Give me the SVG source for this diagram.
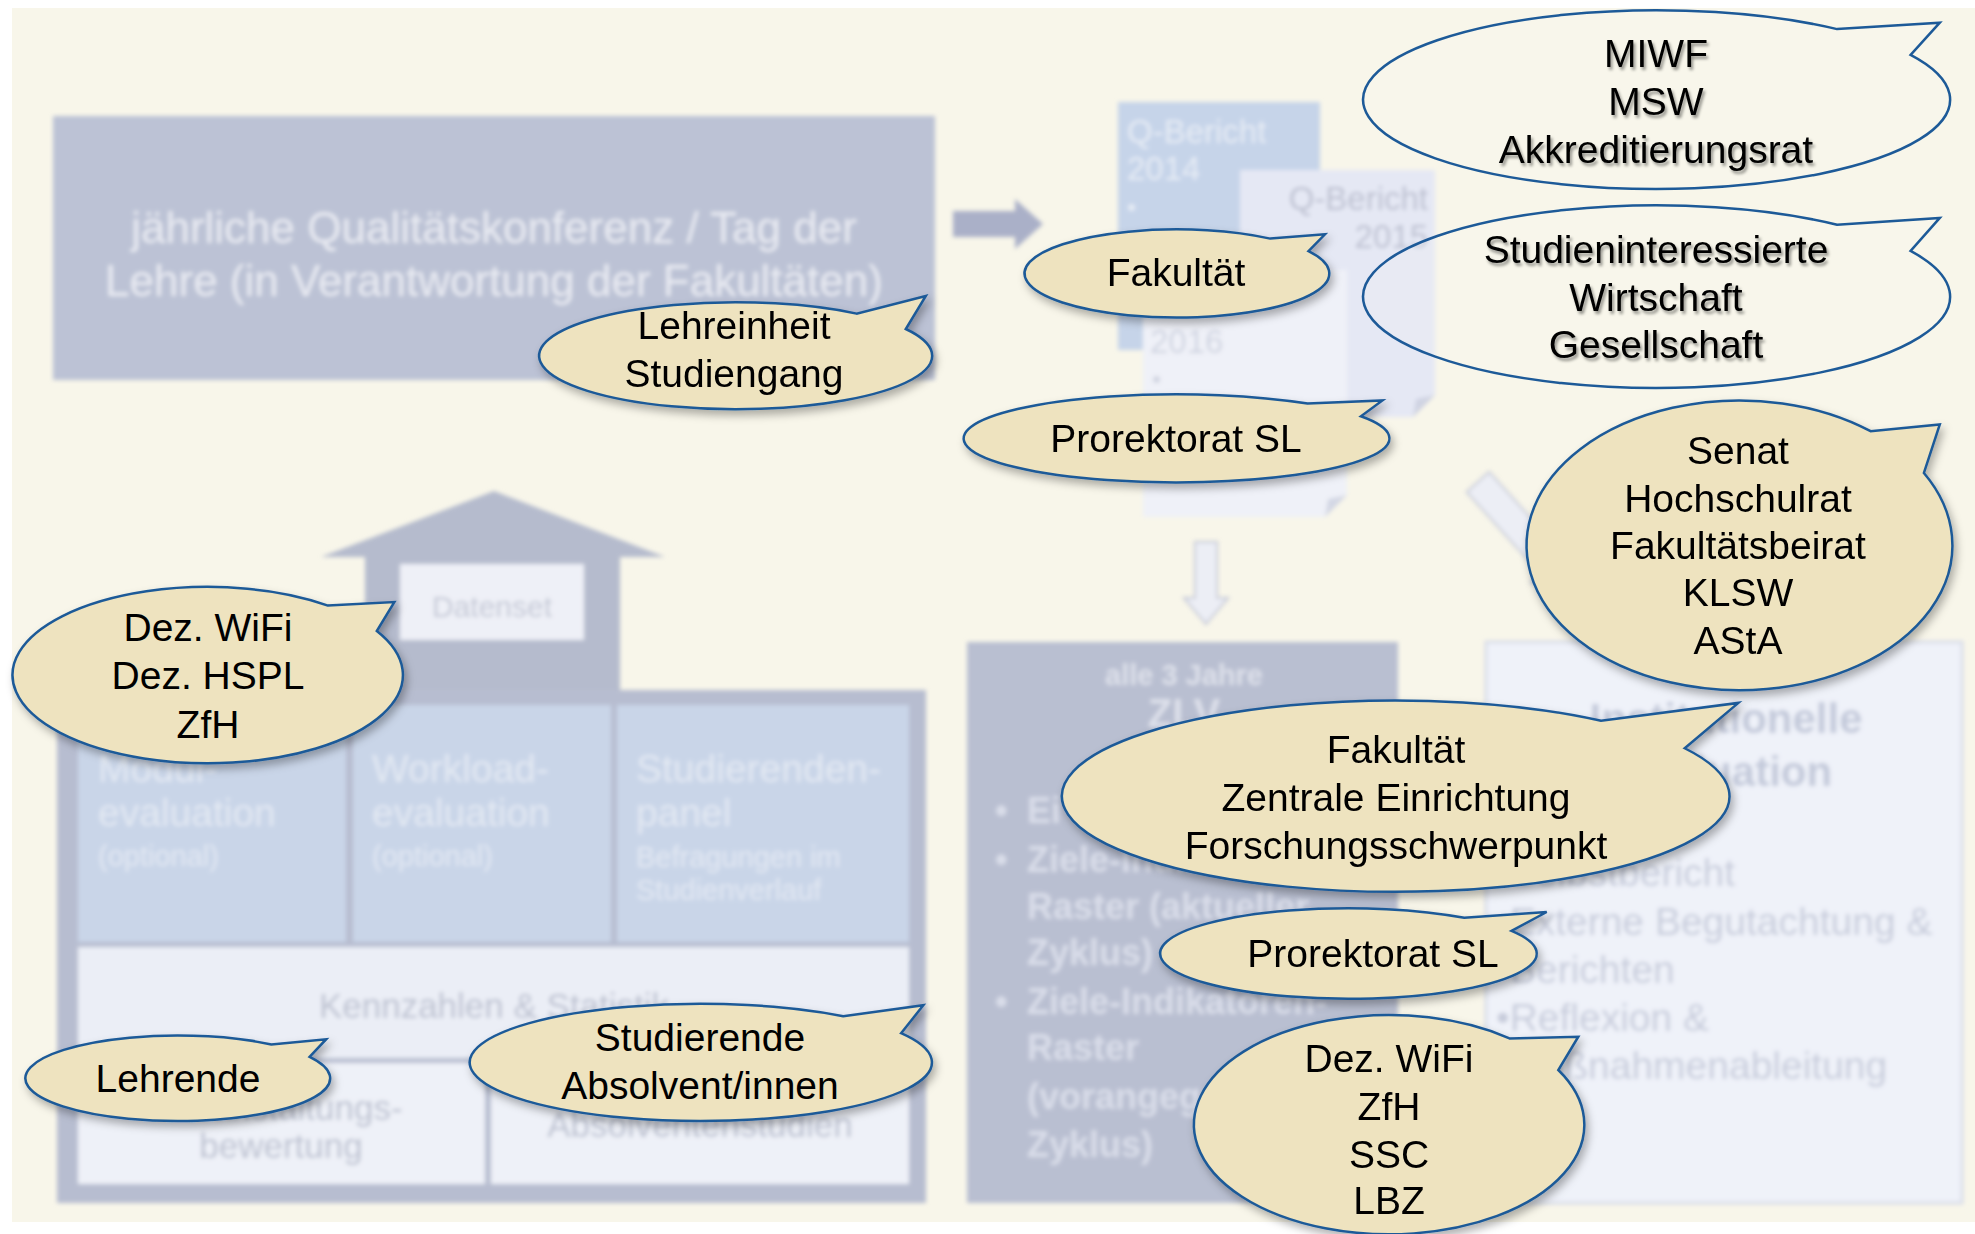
<svg xmlns="http://www.w3.org/2000/svg" width="1975" height="1234" viewBox="0 0 1975 1234">
<defs>
<filter id="blur" x="-5%" y="-5%" width="110%" height="110%"><feGaussianBlur stdDeviation="2.2"/></filter>
<filter id="shadow" x="-10%" y="-15%" width="125%" height="140%"><feDropShadow dx="3" dy="5" stdDeviation="4" flood-color="#000" flood-opacity="0.3"/></filter>
<filter id="tshadow" x="-10%" y="-20%" width="120%" height="150%"><feDropShadow dx="2" dy="3" stdDeviation="1.5" flood-color="#000" flood-opacity="0.4"/></filter>
</defs>
<style>
text{font-family:"Liberation Sans",Arial,Helvetica,sans-serif}
.bt{font-size:39px;fill:#000;text-anchor:middle}
.tan{fill:#eee3bf;stroke:#1d5a98;stroke-width:2.5;filter:url(#shadow)}
.wht{fill:#fbfaf3;fill-opacity:0.15;stroke:#1d5a98;stroke-width:2.5}
.ws{filter:url(#tshadow)}
.cell{font-size:39px;fill:#e3e9f3}
.small{font-size:29px;fill:#e3e9f3}
.gray{font-size:35px;fill:#bcc1d0;text-anchor:middle}
.zlv{font-size:36px;font-weight:bold;fill:#d9dde9}
.inst{font-size:39px;fill:#c7ccdb}
.arrowOut{fill:#eceef5;stroke:#c5c9d8;stroke-width:2}
</style>
<rect width="1975" height="1234" fill="#ffffff"/>
<rect x="12" y="8" width="1963" height="1214" fill="#f8f6ea"/>

<g id="background" filter="url(#blur)">
  <g id="qualitaetskonferenz">
    <rect x="53" y="116" width="882" height="264" fill="#bcc2d5"/>
    <text x="494" y="243" font-size="44" fill="#e9ebf2" text-anchor="middle">jährliche Qualitätskonferenz / Tag der</text>
    <text x="494" y="296" font-size="44" fill="#e9ebf2" text-anchor="middle">Lehre (in Verantwortung der Fakultäten)</text>
  </g>
  <g id="qbericht2014">
    <rect x="1118" y="102" width="202" height="248" fill="#c6d4e9"/>
    <text x="1127" y="143" font-size="33" fill="#e6ecf5">Q-Bericht</text>
    <text x="1127" y="180" font-size="33" fill="#e6ecf5">2014</text>
    <text x="1127" y="216" font-size="26" fill="#e6ecf5">•</text>
  </g>
  <g id="qbericht2015">
    <path d="M1240,170 H1435 V395 L1413,417 H1240 Z" fill="#e5e8f4"/>
    <path d="M1435,395 L1416,399 L1413,417 Z" fill="#cfd3e2"/>
    <text x="1428" y="210" font-size="33" fill="#bcc0d0" text-anchor="end">Q-Bericht</text>
    <text x="1428" y="248" font-size="33" fill="#bcc0d0" text-anchor="end">2015</text>
  </g>
  <g id="qbericht2016">
    <path d="M1143,270 H1347 V495 L1325,517 H1143 Z" fill="#eff1f8"/>
    <path d="M1347,495 L1328,499 L1325,517 Z" fill="#d3d7e4"/>
    <text x="1150" y="353" font-size="33" fill="#cfd3e0">2016</text>
    <text x="1152" y="388" font-size="26" fill="#cfd3e0">•</text>
  </g>
  <g id="haus">
    <polygon points="494,491 665,557 321,557" fill="#b5bbcd"/>
    <rect x="365" y="556" width="255" height="136" fill="#b5bbcd"/>
    <rect x="400" y="564" width="184" height="76" fill="#eef0f7"/>
    <text x="492" y="617" font-size="30" fill="#c4c8d5" text-anchor="middle">Datenset</text>
    <rect x="57" y="690" width="869" height="513" fill="#b7bdd0"/>
    <rect x="78" y="705" width="268" height="237" fill="#c9d5e8"/>
    <rect x="353" y="705" width="258" height="237" fill="#c9d5e8"/>
    <rect x="617" y="705" width="292" height="237" fill="#c9d5e8"/>
    <rect x="78" y="947" width="831" height="111" fill="#ebeef6"/>
    <rect x="78" y="1063" width="407" height="121" fill="#eef1f8"/>
    <rect x="491" y="1063" width="418" height="121" fill="#eef1f8"/>
    <text class="cell" x="98" y="782">Modul-</text>
    <text class="cell" x="98" y="826">evaluation</text>
    <text class="small" x="98" y="866">(optional)</text>
    <text class="cell" x="372" y="782">Workload-</text>
    <text class="cell" x="372" y="826">evaluation</text>
    <text class="small" x="372" y="866">(optional)</text>
    <text class="cell" x="636" y="782">Studierenden-</text>
    <text class="cell" x="636" y="826">panel</text>
    <text class="small" x="636" y="867">Befragungen im</text>
    <text class="small" x="636" y="900">Studienverlauf</text>
    <text class="gray" x="494" y="1018" font-size="40">Kennzahlen &amp; Statistik</text>
    <text class="gray" x="281" y="1120">Veranstaltungs-</text>
    <text class="gray" x="281" y="1158">bewertung</text>
    <text class="gray" x="700" y="1137">Absolventenstudien</text>
  </g>
  <g id="zlv">
    <rect x="967" y="642" width="431" height="561" fill="#b9bfd1"/>
    <text x="1184" y="685" font-size="29" font-weight="bold" fill="#dde0ea" text-anchor="middle">alle 3 Jahre</text>
    <text x="1184" y="727" font-size="40" font-weight="bold" fill="#dde0ea" text-anchor="middle">ZLV</text>
    <text class="zlv" x="995" y="823">•</text><text class="zlv" x="1027" y="823">Ei</text>
    <text class="zlv" x="995" y="872">•</text><text class="zlv" x="1027" y="872">Ziele-Indikatoren-</text>
    <text class="zlv" x="1027" y="919">Raster (aktueller</text>
    <text class="zlv" x="1027" y="965">Zyklus)</text>
    <text class="zlv" x="995" y="1014">•</text><text class="zlv" x="1027" y="1014">Ziele-Indikatoren-</text>
    <text class="zlv" x="1027" y="1060">Raster</text>
    <text class="zlv" x="1027" y="1109">(vorangegangener</text>
    <text class="zlv" x="1027" y="1157">Zyklus)</text>
  </g>
  <g id="institutionelle-evaluation">
    <rect x="1486" y="642" width="476" height="561" fill="#eff2f9" stroke="#d9dde9" stroke-width="3"/>
    <text x="1726" y="733" font-size="42" font-weight="bold" fill="#c3c9da" text-anchor="middle">Institutionelle</text>
    <text x="1726" y="786" font-size="42" font-weight="bold" fill="#c3c9da" text-anchor="middle">Evaluation</text>
    <text class="inst" x="1496" y="886">•Selbstbericht</text>
    <text class="inst" x="1496" y="935">•Externe Begutachtung &amp;</text>
    <text class="inst" x="1510" y="983">Berichten</text>
    <text class="inst" x="1496" y="1031">•Reflexion &amp;</text>
    <text class="inst" x="1510" y="1079">Maßnahmenableitung</text>
  </g>
</g>

<g id="connectors" filter="url(#blur)">
  <polygon id="pfeil-rechts" points="953,211 1015,211 1015,199 1043,224 1015,249 1015,237 953,237" fill="#aab0c8"/>
  <polygon id="pfeil-unten" class="arrowOut" points="1195,542 1217,542 1217,598 1228,598 1206,624 1184,598 1195,598"/>
  <polygon id="pfeil-diagonal" class="arrowOut" transform="translate(1478,482) rotate(48)" points="0,-15 110,-15 110,-28 145,0 110,28 110,15 0,15"/>
</g>

<g id="bubble-lehreinheit">
  <path class="tan" d="M905.8,329.0 A196.5,53.5 0 1 1 856.6,313.6 L925.8,296 Z"/>
  <text class="bt" x="734" y="339">Lehreinheit</text>
  <text class="bt" x="734" y="387">Studiengang</text>
</g>
<g id="bubble-fakultaet-oben">
  <path class="tan" d="M1308.5,251.2 A152.4,44.1 0 1 1 1270.3,238.6 L1325,234.3 Z"/>
  <text class="bt" x="1176" y="286">Fakultät</text>
</g>
<g id="bubble-prorektorat-oben">
  <path class="tan" d="M1360.9,416.3 A212.9,44.1 0 1 1 1307.6,403.6 L1382.4,400.5 Z"/>
  <text class="bt" x="1176" y="452">Prorektorat SL</text>
</g>
<g id="bubble-ministerien">
  <path class="wht" d="M1910.6,54.8 A293.5,89.4 0 1 1 1837.1,29.1 L1939.8,22.7 Z"/>
  <text class="bt ws" x="1656" y="67">MIWF</text>
  <text class="bt ws" x="1656" y="115">MSW</text>
  <text class="bt ws" x="1656" y="163">Akkreditierungsrat</text>
</g>
<g id="bubble-gesellschaft">
  <path class="wht" d="M1910.6,250.95 A293.5,91.3 0 1 1 1837.1,224.7 L1939.8,217.9 Z"/>
  <text class="bt ws" x="1656" y="263">Studieninteressierte</text>
  <text class="bt ws" x="1656" y="311">Wirtschaft</text>
  <text class="bt ws" x="1656" y="358">Gesellschaft</text>
</g>
<g id="bubble-gremien">
  <path class="tan" d="M1923.9,472.95 A212.9,144.9 0 1 1 1870.6,431.2 L1939.8,424.5 Z"/>
  <text class="bt" x="1738" y="464">Senat</text>
  <text class="bt" x="1738" y="512">Hochschulrat</text>
  <text class="bt" x="1738" y="559">Fakultätsbeirat</text>
  <text class="bt" x="1738" y="606">KLSW</text>
  <text class="bt" x="1738" y="654">AStA</text>
</g>
<g id="bubble-dezernate">
  <path class="tan" d="M376.8,631.0 A195.2,88.2 0 1 1 328.0,605.6 L394.3,602.1 Z"/>
  <text class="bt" x="208" y="641">Dez. WiFi</text>
  <text class="bt" x="208" y="689">Dez. HSPL</text>
  <text class="bt" x="208" y="738">ZfH</text>
</g>
<g id="bubble-einrichtungen">
  <path class="tan" d="M1684.7,748.25 A333.8,95.7 0 1 1 1601.1,720.7 L1738.4,702.9 Z"/>
  <text class="bt" x="1396" y="763">Fakultät</text>
  <text class="bt" x="1396" y="811">Zentrale Einrichtung</text>
  <text class="bt" x="1396" y="859">Forschungsschwerpunkt</text>
</g>
<g id="bubble-prorektorat-unten">
  <path class="tan" d="M1511.5,930.85 A188.3,45.3 0 1 1 1464.3,917.8 L1546.7,912 Z"/>
  <text class="bt" x="1373" y="967">Prorektorat SL</text>
</g>
<g id="bubble-service">
  <path class="tan" d="M1558.3,1070.0 A195.2,109.6 0 1 1 1509.5,1038.4 L1578.3,1036.7 Z"/>
  <text class="bt" x="1389" y="1072">Dez. WiFi</text>
  <text class="bt" x="1389" y="1120">ZfH</text>
  <text class="bt" x="1389" y="1168">SSC</text>
  <text class="bt" x="1389" y="1214">LBZ</text>
</g>
<g id="bubble-lehrende">
  <path class="tan" d="M309.6,1056.8 A152.4,42.8 0 1 1 271.4,1044.5 L326.2,1039.2 Z"/>
  <text class="bt" x="178" y="1092">Lehrende</text>
</g>
<g id="bubble-studierende">
  <path class="tan" d="M901.1,1033.2 A231.1,58.6 0 1 1 843.3,1016.3 L923.3,1005.2 Z"/>
  <text class="bt" x="700" y="1051">Studierende</text>
  <text class="bt" x="700" y="1099">Absolvent/innen</text>
</g>
</svg>
